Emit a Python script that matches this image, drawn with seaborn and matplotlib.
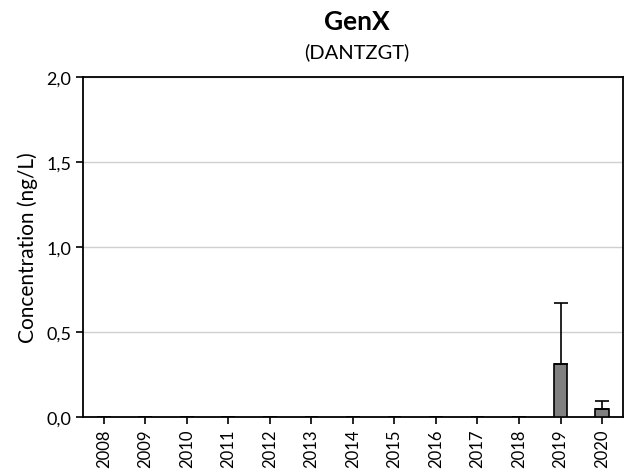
import numpy as np
import pandas as pd
import matplotlib
matplotlib.use("Agg")
import matplotlib.pyplot as plt
import seaborn as sns

# values
years = [str(y) for y in range(2008, 2021)]
conc = [0, 0, 0, 0, 0, 0, 0, 0, 0, 0, 0, 0.31, 0.045]
err = [0, 0, 0, 0, 0, 0, 0, 0, 0, 0, 0, 0.36, 0.05]

df = pd.DataFrame({"year": years, "conc": conc, "err": err})

sns.set_style("white")
plt.rcParams['font.family'] = ['Lato', 'DejaVu Sans']
plt.rcParams['text.color'] = 'black'
plt.rcParams['axes.labelcolor'] = 'black'
plt.rcParams['xtick.color'] = 'black'
plt.rcParams['ytick.color'] = 'black'

fig = plt.figure(figsize=(6.31, 4.77), dpi=100)
ax = fig.add_axes([0.1315, 0.1237, 0.8555, 0.7128])

sns.barplot(x="year", y="conc", data=df, color="#808080", edgecolor="black",
            linewidth=1.2, width=0.33, ax=ax, zorder=3)
# error bars, upward only
mask = df["err"] > 0
xs = np.arange(len(df))[mask.values]
ax.errorbar(xs, df["conc"][mask], yerr=[np.zeros(mask.sum()), df["err"][mask]],
            fmt="none", ecolor="black", elinewidth=1.2, capsize=5, capthick=1.2, zorder=4)

ax.set_ylim(0, 2.0)
ax.set_xlim(-0.5, len(years) - 0.5)
ax.set_yticks([0, 0.5, 1.0, 1.5, 2.0])
ax.set_yticklabels(["0,0", "0,5", "1,0", "1,5", "2,0"], fontsize=13)
ax.set_xticks(range(len(years)))
ax.set_xticklabels(years, rotation=90, fontsize=12)
ax.yaxis.grid(True, color="#d0d0d0", linewidth=1, zorder=0)
ax.set_axisbelow(True)
for s in ax.spines.values():
    s.set_color("black")
    s.set_linewidth(1.3)
ax.tick_params(axis="both", direction="out", length=5, width=1.2, color="black", left=True, bottom=True)
ax.set_xlabel("")
ax.set_ylabel("Concentration (ng/L)", fontsize=15, labelpad=6)

fig.text(0.566, 0.954, "GenX", ha="center", va="center", fontsize=19, fontweight="bold")
fig.text(0.566, 0.891, "(DANTZGT)", ha="center", va="center", fontsize=14.5)

fig.savefig("out.png", dpi=100)
